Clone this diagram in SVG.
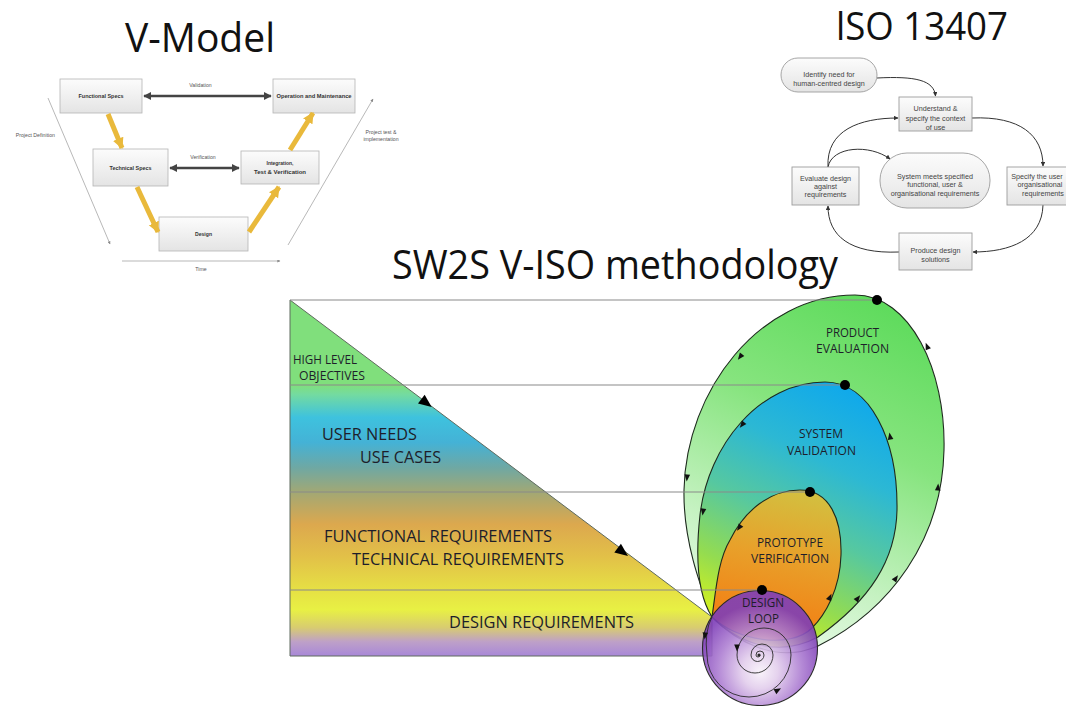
<svg xmlns="http://www.w3.org/2000/svg" width="1066" height="706" viewBox="0 0 1066 706">
<defs>
  <linearGradient id="gBox" x1="0" y1="0" x2="0" y2="1">
    <stop offset="0" stop-color="#fcfcfc"/><stop offset="1" stop-color="#e4e4e4"/>
  </linearGradient>
  <linearGradient id="gTrap" gradientUnits="userSpaceOnUse" x1="0" y1="300" x2="0" y2="656">
    <stop offset="0" stop-color="#80df7c"/>
    <stop offset="0.239" stop-color="#80df7c"/>
    <stop offset="0.265" stop-color="#74dba0"/>
    <stop offset="0.33" stop-color="#3ec2de"/>
    <stop offset="0.40" stop-color="#44b2d6"/>
    <stop offset="0.47" stop-color="#6ea8a4"/>
    <stop offset="0.54" stop-color="#a2a874"/>
    <stop offset="0.63" stop-color="#dca84e"/>
    <stop offset="0.72" stop-color="#e2c048"/>
    <stop offset="0.82" stop-color="#e6e244"/>
    <stop offset="0.87" stop-color="#e8f044"/>
    <stop offset="0.92" stop-color="#d8cc70"/>
    <stop offset="0.96" stop-color="#bea0c8"/>
    <stop offset="1" stop-color="#a888d8"/>
  </linearGradient>
  <linearGradient id="gOuter" gradientUnits="userSpaceOnUse" x1="880" y1="300" x2="715" y2="650">
    <stop offset="0" stop-color="#5edb5c"/>
    <stop offset="0.35" stop-color="#86e47e"/>
    <stop offset="0.7" stop-color="#c6f2c2"/>
    <stop offset="1" stop-color="#f2fdf2"/>
  </linearGradient>
  <linearGradient id="gSys" gradientUnits="userSpaceOnUse" x1="862" y1="390" x2="745" y2="632">
    <stop offset="0" stop-color="#0ea8ec"/>
    <stop offset="0.3" stop-color="#2cb8d4"/>
    <stop offset="0.55" stop-color="#56c8a0"/>
    <stop offset="0.8" stop-color="#94dc50"/>
    <stop offset="1" stop-color="#d6f21c"/>
  </linearGradient>
  <linearGradient id="gProto" gradientUnits="userSpaceOnUse" x1="800" y1="490" x2="770" y2="640">
    <stop offset="0" stop-color="#d2c040"/>
    <stop offset="0.45" stop-color="#e8a02a"/>
    <stop offset="1" stop-color="#f47a10"/>
  </linearGradient>
  <radialGradient id="gLoop" gradientUnits="userSpaceOnUse" cx="760" cy="668" r="64" fx="760" fy="672">
    <stop offset="0" stop-color="#f8f2fa"/>
    <stop offset="0.28" stop-color="#e2cdec"/>
    <stop offset="0.65" stop-color="#ad7ed2"/>
    <stop offset="1" stop-color="#7e3eb8"/>
  </radialGradient>
  <marker id="mDark" viewBox="0 0 10 10" refX="9" refY="5" markerWidth="3.4" markerHeight="3" orient="auto-start-reverse">
    <path d="M0,0 L10,5 L0,10 z" fill="#444"/>
  </marker>
  <marker id="mYel" viewBox="0 0 10 10" refX="9" refY="5" markerWidth="2.2" markerHeight="2.4" orient="auto">
    <path d="M0,0 L10,5 L0,10 z" fill="#e9b93b"/>
  </marker>
  <marker id="mThin" viewBox="0 0 10 10" refX="9" refY="5" markerUnits="userSpaceOnUse" markerWidth="4" markerHeight="3" orient="auto">
    <path d="M0,0 L10,5 L0,10 z" fill="#888"/>
  </marker>
  <marker id="mIso" viewBox="0 0 10 10" refX="9" refY="5" markerUnits="userSpaceOnUse" markerWidth="5" markerHeight="4.5" orient="auto">
    <path d="M0,0 L10,5 L0,10 z" fill="#333"/>
  </marker>
  <polygon id="tri" points="3.5,0 -3.5,-2.8 -3.5,2.8" fill="#111"/>
</defs>
<style>
  .title { font-family: "Open Sans", "Liberation Sans", sans-serif; fill: #111; }
  .vbox { fill: url(#gBox); stroke: #b4b4b4; stroke-width: 0.8; }
  .vt { font-family: "Liberation Sans", Arial, sans-serif; font-size: 5.6px; font-weight: bold; fill: #333; text-anchor: middle; }
  .vs { font-family: "Liberation Sans", Arial, sans-serif; font-size: 5.2px; fill: #555; text-anchor: middle; }
  .ibox { fill: url(#gBox); stroke: #9c9c9c; stroke-width: 0.9; }
  .it { font-family: "Liberation Sans", Arial, sans-serif; font-size: 7.2px; fill: #444; text-anchor: middle; }
  .yel { stroke: #e9b93b; stroke-width: 5; fill: none; marker-end: url(#mYel); }
  .dark { stroke: #444; stroke-width: 2.6; fill: none; marker-start: url(#mDark); marker-end: url(#mDark); }
  .thin { stroke: #9a9a9a; stroke-width: 0.7; fill: none; marker-end: url(#mThin); }
  .iso { stroke: #333; stroke-width: 1; fill: none; marker-end: url(#mIso); }
  .lab { font-family: "Open Sans", "Liberation Sans", sans-serif; fill: #1e1e2a; }
  .loop { stroke: #1e2a1e; stroke-width: 1.1; }
  .hl { stroke: #8a8a8a; stroke-width: 1.2; }
</style>

<rect width="1066" height="706" fill="#ffffff"/>

<!-- Titles -->
<text class="title" x="125" y="52" font-size="40" textLength="150" lengthAdjust="spacingAndGlyphs">V-Model</text>
<text class="title" x="836" y="40" font-size="38" textLength="172" lengthAdjust="spacingAndGlyphs">lSO 13407</text>
<text class="title" x="392" y="279" font-size="40" textLength="446" lengthAdjust="spacingAndGlyphs">SW2S V-ISO methodology</text>

<!-- V-Model -->
<g id="v-model">
  <g id="vm-functional"><rect class="vbox" x="60" y="79" width="82" height="34"/><text class="vt" x="101" y="98" textLength="45" lengthAdjust="spacingAndGlyphs">Functional Specs</text></g>
  <g id="vm-operation"><rect class="vbox" x="273" y="79" width="82" height="34"/><text class="vt" x="314" y="98" textLength="75" lengthAdjust="spacingAndGlyphs">Operation and Maintenance</text></g>
  <g id="vm-technical"><rect class="vbox" x="93" y="149" width="75" height="37"/><text class="vt" x="130.5" y="169.5" textLength="42" lengthAdjust="spacingAndGlyphs">Technical Specs</text></g>
  <g id="vm-integration"><rect class="vbox" x="241" y="151" width="78" height="33"/><text class="vt" x="280" y="165" textLength="27" lengthAdjust="spacingAndGlyphs">Integration,</text><text class="vt" x="280" y="173.5" textLength="52" lengthAdjust="spacingAndGlyphs">Test &amp; Verification</text></g>
  <g id="vm-design"><rect class="vbox" x="159" y="217" width="89" height="34"/><text class="vt" x="203.5" y="236" textLength="17" lengthAdjust="spacingAndGlyphs">Design</text></g>
  <g id="vm-connectors">
    <line class="dark" x1="144" y1="96" x2="271" y2="96"/>
    <line class="dark" x1="170" y1="168" x2="239" y2="168"/>
    <line class="yel" x1="108" y1="114" x2="122" y2="148"/>
    <line class="yel" x1="137" y1="187" x2="158" y2="232"/>
    <line class="yel" x1="249" y1="232" x2="279" y2="187"/>
    <line class="yel" x1="290" y1="150" x2="313" y2="113"/>
    <line class="thin" x1="48" y1="98" x2="110" y2="244"/>
    <line class="thin" x1="288" y1="245" x2="373" y2="99"/>
    <line class="thin" x1="122" y1="261" x2="280" y2="261"/>
  </g>
  <text class="vs" x="200.5" y="87">Validation</text>
  <text class="vs" x="203" y="158.5">Verification</text>
  <text class="vs" x="55" y="137" style="text-anchor:end">Project Definition</text>
  <text class="vs" x="381" y="133.5">Project test &amp;</text>
  <text class="vs" x="381" y="141">implementation</text>
  <text class="vs" x="201" y="270.5">Time</text>
</g>

<!-- ISO 13407 -->
<g id="iso13407">
  <g id="iso-connectors">
    <path class="iso" d="M877,78 C915,76 934,80 935.5,96"/>
    <path class="iso" d="M972,118 C1020,116 1043,135 1043,166"/>
    <path class="iso" d="M828,167 C826,130 860,118 898,118"/>
    <path class="iso" d="M828,167 C832,146 870,144 890,159"/>
    <path class="iso" d="M1043,205 C1042,240 1010,252 973,252"/>
    <path class="iso" d="M899,252 C850,254 828,236 828,206"/>
  </g>
  <g id="iso-identify"><rect class="ibox" x="781" y="58" width="96" height="34" rx="17"/><text class="it" x="829" y="76.5">Identify need for</text><text class="it" x="829" y="86">human-centred design</text></g>
  <g id="iso-understand"><rect class="ibox" x="899" y="97" width="73" height="34"/><text class="it" x="935.5" y="110.5">Understand &amp;</text><text class="it" x="935.5" y="120.5">specify the context</text><text class="it" x="935.5" y="129.5">of use</text></g>
  <g id="iso-system"><rect class="ibox" x="880" y="153" width="110" height="55" rx="27"/><text class="it" x="935" y="178.5">System meets specified</text><text class="it" x="935" y="187">functional, user &amp;</text><text class="it" x="935" y="195.5">organisational requirements</text></g>
  <g id="iso-evaluate"><rect class="ibox" x="792" y="167" width="67" height="38"/><text class="it" x="825.5" y="180.5">Evaluate design</text><text class="it" x="825.5" y="188.5">against</text><text class="it" x="825.5" y="196.5">requirements</text></g>
  <g id="iso-specify"><rect class="ibox" x="1007" y="167" width="73" height="38"/><text class="it" x="1037" y="178.5">Specify the user</text><text class="it" x="1040" y="187">organisational</text><text class="it" x="1043" y="195.5">requirements</text></g>
  <g id="iso-produce"><rect class="ibox" x="899" y="233" width="73" height="37"/><text class="it" x="935.5" y="252.5">Produce design</text><text class="it" x="935.5" y="261.5">solutions</text></g>
</g>

<!-- SW2S V-ISO methodology -->
<g id="sw2s">
  <g id="requirements-wedge">
    <polygon points="290,300 712,617 712,656 290,656" fill="url(#gTrap)" stroke="#5e6a5e" stroke-width="1"/>
  </g>
  <g id="product-evaluation">
    <path class="loop" fill="url(#gOuter)" d="M712,617 C700,585 683,540 684,490 C686,390 760,295 855,295 C910,295 946,370 944,450 C942,540 890,610 818,646 C775,665 735,640 712,617 Z"/>
  </g>
  <g id="system-validation">
    <path class="loop" fill="url(#gSys)" d="M712,617 C698,595 695,560 700,515 C708,445 760,382 825,382 C870,382 898,440 897,510 C896,560 870,600 818,637 C775,660 735,640 712,617 Z"/>
  </g>
  <g id="prototype-verification">
    <path class="loop" fill="url(#gProto)" d="M712,617 C716,590 718,560 730,540 C745,510 770,490 800,490 C830,490 842,520 841,555 C840,590 825,615 812,628 C790,650 735,640 712,617 Z"/>
  </g>
  <g id="design-loop">
    <circle cx="760" cy="648" r="57.5" fill="url(#gLoop)" fill-opacity="0.9" stroke="#2a2a2a" stroke-width="1.1"/>
    <path d="M712,617 Q704,632 707,655 A42,42 0 0 0 791,655 A27,27 0 0 0 737,655 A18,18 0 0 0 773,655 A11,11 0 0 0 751,655 A6.5,6.5 0 0 0 764,655 A4,4 0 0 0 756,655 A2,2 0 0 0 760,655" fill="none" stroke="#2a2a2a" stroke-width="0.9"/>
    <circle cx="759" cy="655" r="1.6" fill="#2a2a2a"/>
  </g>
  <g id="connectors">
    <line class="hl" x1="290" y1="300" x2="877" y2="300"/>
    <line class="hl" x1="290" y1="385" x2="845" y2="385"/>
    <line class="hl" x1="290" y1="492" x2="810" y2="492"/>
    <line class="hl" x1="290" y1="590" x2="762" y2="590"/>
    <polygon points="0,0 -13,-5.5 -13,5.5" fill="#000" transform="translate(431.7 407) rotate(37)"/>
    <polygon points="0,0 -13,-5.5 -13,5.5" fill="#000" transform="translate(628 556) rotate(37)"/>
    <use href="#tri" transform="translate(740 357) rotate(127)"/>
    <use href="#tri" transform="translate(687 478) rotate(95)"/>
    <use href="#tri" transform="translate(927 346) rotate(-112)"/>
    <use href="#tri" transform="translate(938 487) rotate(-86)"/>
    <use href="#tri" transform="translate(896 578) rotate(-55)"/>
    <use href="#tri" transform="translate(742 425) rotate(128)"/>
    <use href="#tri" transform="translate(703 512) rotate(98)"/>
    <use href="#tri" transform="translate(890 436) rotate(-100)"/>
    <use href="#tri" transform="translate(858 598) rotate(-52)"/>
    <use href="#tri" transform="translate(739 528) rotate(125)"/>
    <use href="#tri" transform="translate(830 597) rotate(-65)"/>
    <use href="#tri" transform="translate(705 636) rotate(95)"/>
    <use href="#tri" transform="translate(778 690) rotate(-30)"/>
    <use href="#tri" transform="translate(737 648) rotate(90)"/>
    <circle cx="877" cy="300" r="5" fill="#000"/>
    <circle cx="845" cy="385" r="5" fill="#000"/>
    <circle cx="810" cy="492" r="5" fill="#000"/>
    <circle cx="762" cy="590" r="5" fill="#000"/>
  </g>
  <g id="labels">
    <text class="lab" x="293" y="364" font-size="12.6" textLength="64" lengthAdjust="spacingAndGlyphs">HIGH LEVEL</text>
    <text class="lab" x="299" y="380" font-size="12.6" textLength="66" lengthAdjust="spacingAndGlyphs">OBJECTIVES</text>
    <text class="lab" x="322" y="440" font-size="16.5" textLength="95" lengthAdjust="spacingAndGlyphs">USER NEEDS</text>
    <text class="lab" x="360" y="463" font-size="16.5" textLength="81" lengthAdjust="spacingAndGlyphs">USE CASES</text>
    <text class="lab" x="324" y="542" font-size="16.5" textLength="228" lengthAdjust="spacingAndGlyphs">FUNCTIONAL REQUIREMENTS</text>
    <text class="lab" x="352" y="565" font-size="16.5" textLength="212" lengthAdjust="spacingAndGlyphs">TECHNICAL REQUIREMENTS</text>
    <text class="lab" x="449" y="628" font-size="16.5" textLength="185" lengthAdjust="spacingAndGlyphs">DESIGN REQUIREMENTS</text>
    <text class="lab" x="852.5" y="337" font-size="12.6" text-anchor="middle" textLength="53" lengthAdjust="spacingAndGlyphs">PRODUCT</text>
    <text class="lab" x="852.5" y="353" font-size="12.6" text-anchor="middle" textLength="73" lengthAdjust="spacingAndGlyphs">EVALUATION</text>
    <text class="lab" x="821" y="438" font-size="12.6" text-anchor="middle" textLength="44" lengthAdjust="spacingAndGlyphs">SYSTEM</text>
    <text class="lab" x="821.5" y="455" font-size="12.6" text-anchor="middle" textLength="69" lengthAdjust="spacingAndGlyphs">VALIDATION</text>
    <text class="lab" x="790" y="547" font-size="12.6" text-anchor="middle" textLength="66" lengthAdjust="spacingAndGlyphs">PROTOTYPE</text>
    <text class="lab" x="790" y="563" font-size="12.6" text-anchor="middle" textLength="78" lengthAdjust="spacingAndGlyphs">VERIFICATION</text>
    <text class="lab" x="763" y="607" font-size="12.6" text-anchor="middle" textLength="42" lengthAdjust="spacingAndGlyphs">DESIGN</text>
    <text class="lab" x="763.5" y="623" font-size="12.6" text-anchor="middle" textLength="31" lengthAdjust="spacingAndGlyphs">LOOP</text>
  </g>
</g>
</svg>
